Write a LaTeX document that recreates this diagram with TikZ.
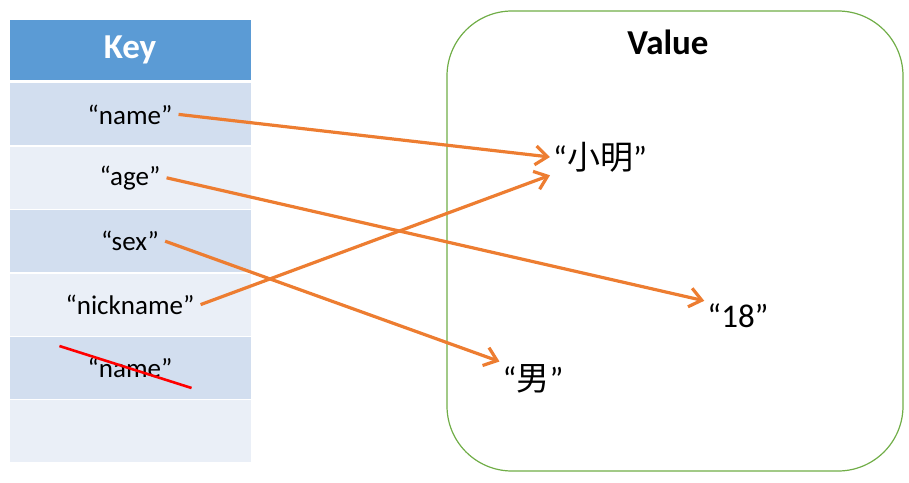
\documentclass[tikz,border=0pt]{standalone}
\usepackage{fontspec}
\setmainfont{Carlito}
\newfontfamily\cjk{Noto Sans CJK SC}
\usetikzlibrary{arrows.meta, positioning, calc}
\definecolor{keyblue}{HTML}{5B9BD5}
\definecolor{rowdark}{HTML}{D2DEEF}
\definecolor{rowlight}{HTML}{EAEFF7}
\definecolor{linkorange}{HTML}{ED7D31}
\definecolor{boxgreen}{HTML}{70AD47}
\tikzstyle{cell} = [rectangle, minimum width=241pt, minimum height=62pt, inner sep=0pt]
\tikzstyle{keytext} = [font=\fontsize{27}{31}\selectfont, inner sep=6pt]
\tikzstyle{valtext} = [font=\fontsize{33}{37}\selectfont, inner sep=3pt]
\tikzstyle{title} = [font=\bfseries\fontsize{35}{39}\selectfont]
\tikzstyle{arrow} = [line width=3.2pt, draw=linkorange, -{Straight Barb[length=12pt, width=19pt, line width=3.2pt]}]

\begin{document}
\begin{tikzpicture}[x=1pt, y=1pt]
    \useasboundingbox (0,0) rectangle (909,-482);

    % key column
    \node (header) [cell, fill=keyblue, minimum height=60pt] at (130,-50) {};
    \node (row1) [cell, fill=rowdark, below=3pt of header] {};
    \node (row2) [cell, fill=rowlight, below=1pt of row1] {};
    \node (row3) [cell, fill=rowdark, below=1pt of row2] {};
    \node (row4) [cell, fill=rowlight, below=1pt of row3] {};
    \node (row5) [cell, fill=rowdark, below=1pt of row4] {};
    \node (row6) [cell, fill=rowlight, below=1pt of row5] {};
    \node (keytitle) [title, text=white] at (header) {Key};

    \node (kname) [keytext] at (row1) {“name”};
    \node (kage) [keytext] at (row2) {“age”};
    \node (ksex) [keytext] at (row3) {“sex”};
    \node (knick) [keytext] at (row4) {“nickname”};
    \node (kold) [keytext] at (row5) {“name”};
    \draw [red, line width=2.6pt] ($(kold.west)+(-22,22)$) -- ($(kold.east)+(13,-20)$);

    % value box
    \node (valbox) [draw=boxgreen, line width=1.2pt, rounded corners=65pt, minimum width=456pt, minimum height=460pt] at (675,-241) {};
    \node (valtitle) [title] at (668,-42) {Value};
    \node (vname) [valtext] at (600,-157) {“{\cjk 小明}”};
    \node (vage) [valtext] at (738,-316) {“18”};
    \node (vsex) [valtext] at (533,-379) {“{\cjk 男}”};

    \draw [arrow] (kname.east) -- (vname.west);
    \draw [arrow] (kage.east) -- (vage.north west);
    \draw [arrow] (ksex.east) -- (vsex.north west);
    \draw [arrow] (knick.east) -- (vname.south west);
\end{tikzpicture}
\end{document}
